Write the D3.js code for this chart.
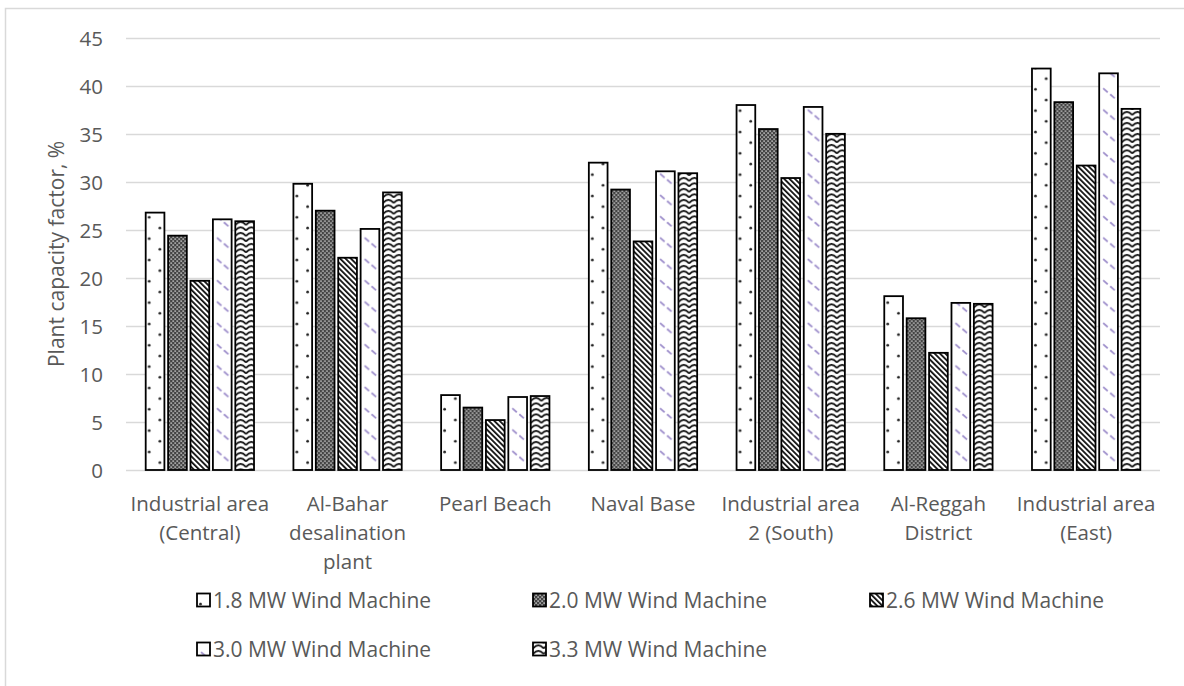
<!DOCTYPE html>
<html><head><meta charset="utf-8">
<script src="https://cdn.jsdelivr.net/npm/d3@7"></script>
<style>
body{margin:0;background:#fff;}
svg text{font-family:"Open Sans",sans-serif;fill:#595959;}
</style></head>
<body><svg id="chart" width="1184" height="686"></svg>
<script>
// ---- data ----
const categories = ["Industrial area (Central)", "Al-Bahar desalination plant", "Pearl Beach", "Naval Base", "Industrial area 2 (South)", "Al-Reggah District", "Industrial area (East)"];
const categoryLines = [["Industrial area","(Central)"], ["Al-Bahar","desalination","plant"], ["Pearl Beach"], ["Naval Base"], ["Industrial area","2 (South)"], ["Al-Reggah","District"], ["Industrial area","(East)"]];
const seriesNames = ["1.8 MW Wind Machine", "2.0 MW Wind Machine", "2.6 MW Wind Machine", "3.0 MW Wind Machine", "3.3 MW Wind Machine"];
const s18 = [26.8, 29.8, 7.8, 32.0, 38.0, 18.1, 41.8];
const s20 = [24.4, 27.0, 6.5, 29.2, 35.5, 15.8, 38.3];
const s26 = [19.7, 22.1, 5.2, 23.8, 30.4, 12.2, 31.7];
const s30 = [26.1, 25.1, 7.6, 31.1, 37.8, 17.4, 41.3];
const s33 = [25.9, 28.9, 7.7, 30.9, 35.0, 17.3, 37.6];
const yTicks = [0, 5, 10, 15, 20, 25, 30, 35, 40, 45];
const yTitle = "Plant capacity factor, %";

const seriesValues = [s18, s20, s26, s30, s33];
const patternIds = ["pDots", "pChecker", "pDiag", "pDash", "pWave"];

const svg = d3.select("#chart");
const plotL = 126, plotR = 1160, plotT = 37.8, plotB = 470;

const x0 = d3.scaleBand().domain(categories).range([plotL, plotR]).padding(0);
const gapOuter = 19.7;
const x1 = d3.scaleBand().domain(seriesNames).range([gapOuter, x0.bandwidth() - gapOuter]).paddingInner(0.165);
const y = d3.scaleLinear().domain([0, 45]).range([plotB, plotT]);

// ---- patterns ----
const defs = svg.append("defs");
// dots
let p = defs.append("pattern").attr("id", "pDots").attr("patternUnits", "userSpaceOnUse")
  .attr("width", 21.33).attr("height", 21.33);
p.append("rect").attr("width", 21.33).attr("height", 21.33).attr("fill", "#fff");
p.append("circle").attr("cx", 3.5).attr("cy", 4).attr("r", 1.35).attr("fill", "#222");
p.append("circle").attr("cx", 14.2).attr("cy", 14.7).attr("r", 1.35).attr("fill", "#222");
// checker
p = defs.append("pattern").attr("id", "pChecker").attr("patternUnits", "userSpaceOnUse")
  .attr("width", 4).attr("height", 4);
p.append("rect").attr("width", 4).attr("height", 4).attr("fill", "#444");
p.append("rect").attr("x", 0.4).attr("y", 0.4).attr("width", 1.4).attr("height", 1.4).attr("fill", "#dcdcdc");
p.append("rect").attr("x", 2.4).attr("y", 2.4).attr("width", 1.4).attr("height", 1.4).attr("fill", "#dcdcdc");
// diagonal stripes "\"
p = defs.append("pattern").attr("id", "pDiag").attr("patternUnits", "userSpaceOnUse")
  .attr("width", 3.8).attr("height", 10).attr("patternTransform", "rotate(-45)");
p.append("rect").attr("width", 3.8).attr("height", 10).attr("fill", "#fff");
p.append("rect").attr("width", 1.8).attr("height", 10).attr("fill", "#111");
// dashed purple diagonal
p = defs.append("pattern").attr("id", "pDash").attr("patternUnits", "userSpaceOnUse")
  .attr("width", 21.33).attr("height", 21.33);
p.append("rect").attr("width", 21.33).attr("height", 21.33).attr("fill", "#fff");
p.append("path").attr("d", "M4,3 L8.5,7 M11,9 L15.5,13")
  .attr("stroke", "#9f90cc").attr("stroke-width", 1.8).attr("fill", "none");
// waves / arches
p = defs.append("pattern").attr("id", "pWave").attr("patternUnits", "userSpaceOnUse")
  .attr("width", 10.67).attr("height", 5.5);
p.append("rect").attr("width", 10.67).attr("height", 5.5).attr("fill", "#fff");
p.append("path").attr("d", "M0,5 Q5.33,-1.4 10.67,5")
  .attr("stroke", "#111").attr("stroke-width", 1.8).attr("fill", "none");

// ---- outer border ----
svg.append("rect").attr("x", 5.5).attr("y", 8.5).attr("width", 1200).attr("height", 700)
  .attr("fill", "none").attr("stroke", "#d9d9d9").attr("stroke-width", 1.5);

// ---- gridlines ----
svg.append("g").selectAll("line").data(yTicks).join("line")
  .attr("x1", plotL).attr("x2", plotR)
  .attr("y1", d => Math.round(y(d)) + 0.5).attr("y2", d => Math.round(y(d)) + 0.5)
  .attr("stroke", "#d9d9d9").attr("stroke-width", 1.3);

// ---- y tick labels ----
svg.append("g").selectAll("text").data(yTicks).join("text")
  .attr("x", 103).attr("y", d => y(d))
  .attr("text-anchor", "end").attr("dominant-baseline", "central")
  .attr("font-size", 20.5).text(d => d);

// ---- y title ----
svg.append("text").attr("transform", `translate(56,${(plotT + plotB) / 2}) rotate(-90)`)
  .attr("text-anchor", "middle").attr("dominant-baseline", "central")
  .attr("font-size", 21).text(yTitle);

// ---- bars ----
const groups = svg.append("g").selectAll("g").data(categories).join("g")
  .attr("transform", d => `translate(${x0(d)},0)`);
groups.each(function (cat, ci) {
  const g = d3.select(this);
  seriesNames.forEach((s, si) => {
    const v = seriesValues[si][ci];
    g.append("g").attr("transform", `translate(${x1(s)},0)`)
      .append("rect")
      .attr("x", 0).attr("y", y(v))
      .attr("width", x1.bandwidth()).attr("height", y(0) - y(v))
      .attr("fill", `url(#${patternIds[si]})`)
      .attr("stroke", "#000").attr("stroke-width", 1.8);
  });
});

// ---- x labels ----
const xl = svg.append("g").selectAll("text").data(categories).join("text")
  .attr("text-anchor", "middle").attr("font-size", 20.5);
xl.each(function (cat, ci) {
  const t = d3.select(this);
  categoryLines[ci].forEach((line, li) => {
    t.append("tspan").attr("x", x0(cat) + x0.bandwidth() / 2)
      .attr("y", 503 + li * 29).attr("dominant-baseline", "central").text(line);
  });
});

// ---- legend ----
const legX = [197, 533, 870], legY = [600, 649];
const leg = svg.append("g").selectAll("g").data(seriesNames).join("g")
  .attr("transform", (d, i) => `translate(${legX[i % 3]},${legY[Math.floor(i / 3)]})`);
leg.append("rect").attr("x", 0).attr("y", -6.5).attr("width", 13).attr("height", 13)
  .attr("fill", (d, i) => `url(#${patternIds[i]})`).attr("stroke", "#000").attr("stroke-width", 1.8);
leg.append("text").attr("x", 16).attr("y", 0).attr("dominant-baseline", "central")
  .attr("font-size", 21).text(d => d);
</script></body></html>
